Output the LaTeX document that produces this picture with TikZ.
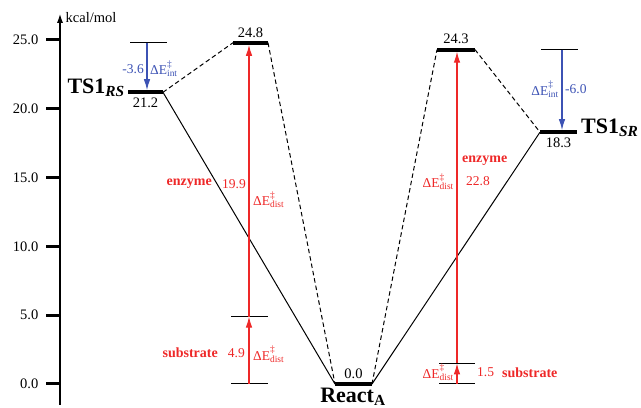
\documentclass[tikz,border=0pt]{standalone}
\usepackage{fontspec}
\setmainfont{Liberation Serif}
\usetikzlibrary{arrows.meta}
\definecolor{enzred}{RGB}{238,40,40}
\definecolor{intblue}{RGB}{60,82,180}
\newcommand{\dE}[1]{ΔE\rlap{\raisebox{0.35ex}{\textsuperscript{‡}}}\textsubscript{#1}}

\begin{document}
\begin{tikzpicture}[x=1pt,y=13.76pt,
	level/.style={line width=4pt},
	guide/.style={line width=1pt},
	path/.style={line width=1pt},
	dpath/.style={line width=1pt,dash pattern=on 4.5pt off 3pt},
	num/.style={font=\fontsize{14.5}{16}\selectfont,inner sep=1.5pt},
	val/.style={font=\fontsize{13.5}{15}\selectfont,inner sep=1pt},
	tag/.style={font=\bfseries\fontsize{14}{16}\selectfont,inner sep=1pt},
	state/.style={font=\bfseries\fontsize{22}{24}\selectfont,inner sep=1pt},
	redarr/.style={enzred,line width=1.1pt,-{Latex[length=11pt,width=6.5pt]}},
	bluearr/.style={intblue,line width=1.1pt,-{Latex[length=11pt,width=6.5pt]}}]
	\useasboundingbox (0,-1.744) rectangle (641,27.907);
	%axis + ticks
		\draw[line width=1.2pt,-{Latex[length=9pt,width=6pt]}] (60,-1.5) -- (60,26.9);
		\node[num,anchor=west] (unit) at (64,26.6) {kcal/mol};
		\foreach \v/\t in {0/0.0,5/5.0,10/10.0,15/15.0,20/20.0,25/25.0} {
			\draw[line width=3pt] (46,\v) -- (60,\v);
			\node[num,anchor=east] (tick\v) at (40,\v) {\t};
		}
	%levels
		\coordinate (rsL) at (128,21.2);  \coordinate (rsR) at (163,21.2);
		\coordinate (tlL) at (233,24.8);  \coordinate (tlR) at (268,24.8);
		\coordinate (reL) at (335,0);     \coordinate (reR) at (372,0);
		\coordinate (trL) at (437,24.3);  \coordinate (trR) at (475,24.3);
		\coordinate (srL) at (540,18.3);  \coordinate (srR) at (577,18.3);
		\draw[level] (rsL) -- (rsR) node[num,midway,below=2pt] (rsval) {21.2};
		\draw[level] (tlL) -- (tlR) node[num,midway,above=2pt] (tlval) {24.8};
		\draw[level] (reL) -- (reR) node[num,midway,above=2pt] (reval) {0.0};
		\draw[level] (trL) -- (trR) node[num,midway,above=2pt] (trval) {24.3};
		\draw[level] (srL) -- (srR) node[num,midway,below=2pt] (srval) {18.3};
		\node[state,anchor=east] (rs) at (126,21.5) {TS1\textsubscript{\textit{RS}}};
		\node[state,anchor=west] (sr) at (580,18.6) {TS1\textsubscript{\textit{SR}}};
		\node[state,anchor=north] (re) at (353,-0.2) {React\textsubscript{A}};
	%paths between levels
		\draw[path] (rsR) -- (reL);
		\draw[path] (reR) -- (srL);
		\draw[dpath] (rsR) -- (tlL);
		\draw[dpath] (tlR) -- (reL);
		\draw[dpath] (reR) -- (trL);
		\draw[dpath] (trR) -- (srL);
	%interaction energy (left)
		\coordinate (ilA) at (130,24.8); \coordinate (ilB) at (167,24.8);
		\draw[guide] (ilA) -- (ilB);
		\draw[bluearr] (147,24.8) -- (147,21.35);
		\node[val,intblue,anchor=east] (ilv) at (145,22.9) {-3.6};
		\node[val,intblue,anchor=west] (ill) at (149,22.9) {\dE{int}};
	%interaction energy (right)
		\coordinate (irA) at (541,24.3); \coordinate (irB) at (578,24.3);
		\draw[guide] (irA) -- (irB);
		\draw[bluearr] (562,24.3) -- (562,18.45);
		\node[val,intblue,anchor=east] (irl) at (560,21.4) {\dE{int}};
		\node[val,intblue,anchor=west] (irv) at (564,21.4) {-6.0};
	%distortion energy (left)
		\coordinate (dlA) at (231,0);   \coordinate (dlB) at (268,0);
		\coordinate (dlC) at (231,4.9); \coordinate (dlD) at (268,4.9);
		\draw[guide] (dlA) -- (dlB);
		\draw[guide] (dlC) -- (dlD);
		\draw[redarr] (249,0) -- (249,4.9);
		\draw[redarr] (249,4.9) -- (249,24.65);
		\node[tag,enzred,anchor=east] (dlsub) at (219,2.25) {substrate};
		\node[val,enzred,anchor=east] (dlsv) at (246,2.25) {4.9};
		\node[val,enzred,anchor=west] (dlsl) at (252,2.15) {\dE{dist}};
		\node[tag,enzred,anchor=east] (dlenz) at (213,14.55) {enzyme};
		\node[val,enzred,anchor=east] (dlev) at (247,14.55) {19.9};
		\node[val,enzred,anchor=west] (dlel) at (252,13.4) {\dE{dist}};
	%distortion energy (right)
		\coordinate (drA) at (439,0);   \coordinate (drB) at (475,0);
		\coordinate (drC) at (439,1.5); \coordinate (drD) at (475,1.5);
		\draw[guide] (drA) -- (drB);
		\draw[guide] (drC) -- (drD);
		\draw[redarr] (457,0) -- (457,1.5);
		\draw[redarr] (457,1.5) -- (457,24.15);
		\node[val,enzred,anchor=east] (drsl) at (455,0.85) {\dE{dist}};
		\node[val,enzred,anchor=west] (drsv) at (476,0.85) {1.5};
		\node[tag,enzred,anchor=west] (drsub) at (501,0.85) {substrate};
		\node[tag,enzred,anchor=west] (drenz) at (461,16.2) {enzyme};
		\node[val,enzred,anchor=east] (drel) at (455,14.7) {\dE{dist}};
		\node[val,enzred,anchor=west] (drev) at (465,14.75) {22.8};
\end{tikzpicture}
\end{document}
